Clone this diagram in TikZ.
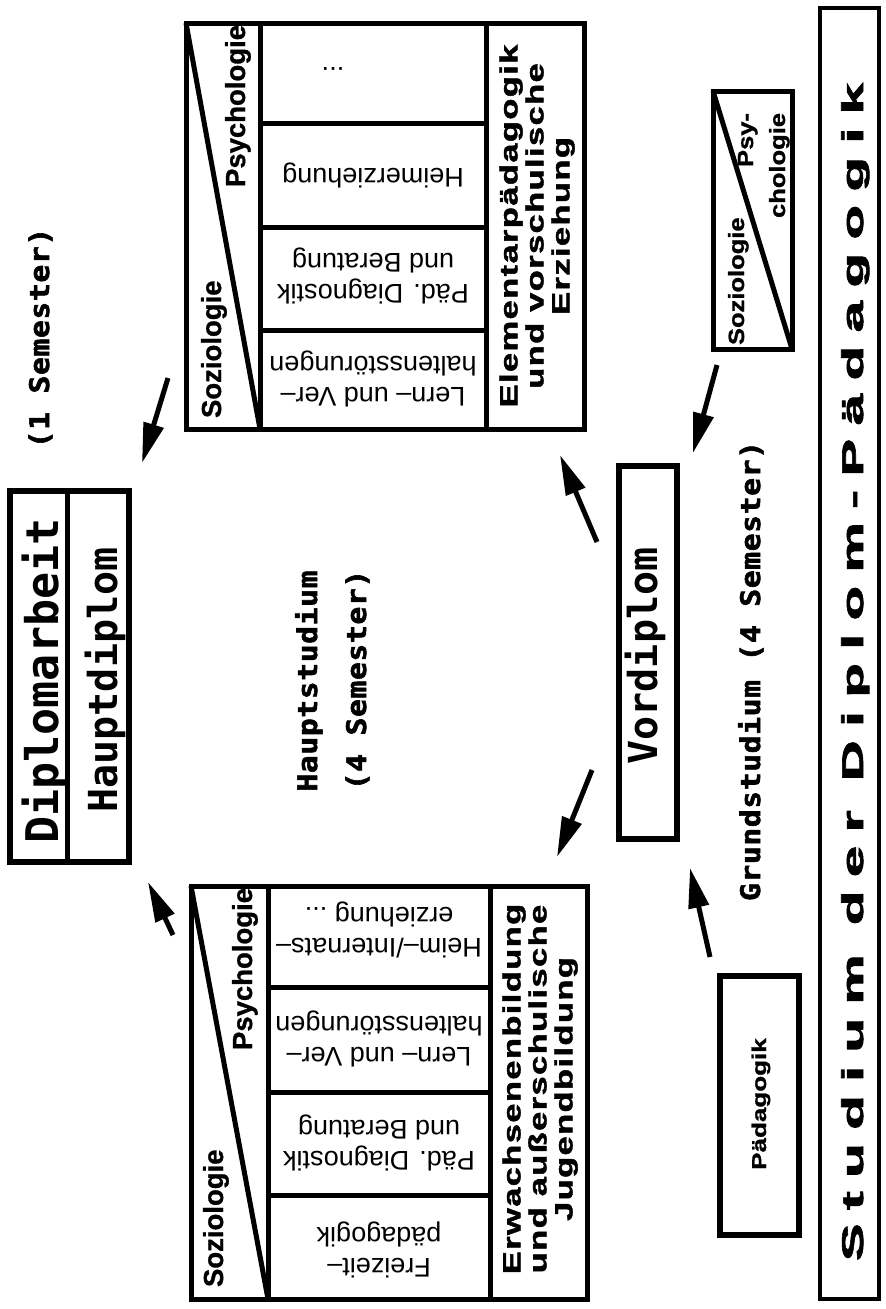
\documentclass[tikz,border=0pt]{standalone}
\usepackage{fontspec}
\usetikzlibrary{arrows.meta}
\setmainfont{Liberation Sans}
\newfontfamily\hv{Liberation Sans}
\newfontfamily\hvb[FakeBold=1]{Liberation Sans}
\newfontfamily\hvsp[LetterSpace=4,FakeBold=1.5]{Liberation Sans}
\newfontfamily\hvti[LetterSpace=24,FakeBold=2]{Liberation Sans}
\newfontfamily\mono{DejaVu Sans Mono}
\newfontfamily\monosp[LetterSpace=2,FakeBold=2]{DejaVu Sans Mono}
\newcommand\myfs[2]{\fontsize{#1}{#2}\selectfont}
\tikzset{
 box/.style={draw, line width=5pt, inner sep=0pt, outer sep=0pt},
 ln/.style={line width=5pt},
 arr/.style={line width=5pt, -{Triangle[length=40pt,width=20pt]}},
 vt/.style={rotate=90, inner sep=0pt, outer sep=0pt},
 cell/.style={rotate=180, inner sep=0pt, align=center, font=\hv\myfs{27}{31}},
 tri/.style={vt, font=\hvb\bfseries\myfs{27.5}{30}},
 lab/.style={vt, anchor=base, xscale=1.1, font=\monosp\bfseries\myfs{27}{30}},
 big/.style={vt, anchor=base, font=\mono\bfseries\myfs{40}{40}},
 sect/.style={vt, align=center, xscale=1.38, font=\hvsp\bfseries\myfs{25}{26}},
 small/.style={vt, xscale=1.16, font=\hvb\bfseries\myfs{22}{24}},
}
\begin{document}
\begin{tikzpicture}[x=1pt,y=-1pt]
\useasboundingbox (0,0) rectangle (886,1309);

% outer frame with title
\node[box, line width=4pt, minimum width=59pt, minimum height=1291pt] (frame) at (849.5,653.5) {};
\node[vt, anchor=base, xscale=1.88, font=\hvti\bfseries\myfs{30}{30}] (title) at (863,672) {Studium der Diplom-Pädagogik};

% Grundstudium
\node[box, line width=6pt, minimum width=79pt, minimum height=259pt] (pbox) at (759.5,1105.5) {};
\node[vt, anchor=base, xscale=1.3, font=\hvb\bfseries\myfs{20}{20}] (ptext) at (766,1104) {Pädagogik};

\node[box, minimum width=79pt, minimum height=258pt] (spbox) at (752.5,220) {};
\draw[ln] (spbox.north west) -- (spbox.south east);
\node[small, anchor=base west] (spsoz) at (744,345) {Soziologie};
\node[small, anchor=base east] (sppsy1) at (753,113) {Psy-};
\node[small, anchor=base east] (sppsy2) at (785,113) {chologie};

\node[lab] (grund) at (760,671) {Grundstudium (4 Semester)};

\node[box, line width=6pt, minimum width=58pt, minimum height=373pt] (vbox) at (647.5,652) {};
\node[big] (vtext) at (657,656) {Vordiplom};

% Hauptstudium upper box
\node[box, minimum width=398pt, minimum height=406pt] (ubox) at (385,226) {};
\draw[ln] (260,23) -- (260,432);
\draw[ln] (486,23) -- (486,429);
\draw[ln] (260,123) -- (486,123);
\draw[ln] (260,227) -- (486,227);
\draw[ln] (260,330) -- (486,330);
\draw[ln] (ubox.north west) -- (260,429);
\node[tri, anchor=base west] (usoz) at (221,418) {Soziologie};
\node[tri, anchor=base east] (upsy) at (245,25) {Psychologie};
\node[cell] (uc1) at (333,69) {...};
\node[cell] (uc2) at (373,175) {Heimerziehung};
\node[cell] (uc3) at (373,276) {Päd. Diagnostik\\und Beratung};
\node[cell] (uc4) at (373,379) {Lern– und Ver–\\haltensstörungen};
\node[sect] (utext) at (537,226) {Elementarpädagogik\\und vorschulische\\Erziehung};

% Hauptstudium lower box
\node[box, minimum width=396pt, minimum height=413pt] (lbox) at (389,1092.5) {};
\draw[ln] (268,886) -- (268,1302);
\draw[ln] (490,886) -- (490,1299);
\draw[ln] (268,987) -- (490,987);
\draw[ln] (268,1092) -- (490,1092);
\draw[ln] (268,1195) -- (490,1195);
\draw[ln] (lbox.north west) -- (268,1299);
\node[tri, anchor=base west] (lsoz) at (223,1287) {Soziologie};
\node[tri, anchor=base east] (lpsy) at (252,888) {Psychologie};
\node[cell] (lc1) at (379,930) {Heim–/Internats–\\erziehung ...};
\node[cell] (lc2) at (379,1039) {Lern– und Ver–\\haltensstörungen};
\node[cell] (lc3) at (379,1143) {Päd. Diagnostik\\und Beratung};
\node[cell] (lc4) at (379,1250) {Freizeit–\\pädagogik};
\node[sect] (ltext) at (540,1089) {Erwachsenenbildung\\und außerschulische\\Jugendbildung};

\node[lab] (haupt1) at (317,681) {Hauptstudium};
\node[lab] (haupt2) at (366,680) {(4 Semester)};
\node[lab] (eins) at (49,338) {(1 Semester)};

% Diplomarbeit / Hauptdiplom
\node[box, line width=6pt, minimum width=119pt, minimum height=371pt] (dbox) at (69.5,676.5) {};
\draw[ln] (67,491) -- (67,862);
\node[big, font=\mono\bfseries\myfs{45}{45}] (dtext) at (58,681) {Diplomarbeit};
\node[big] (htext) at (117,680) {Hauptdiplom};

% arrows
\coordinate (a1s) at (717,365); \coordinate (a1e) at (693,453);
\coordinate (a2s) at (710,957); \coordinate (a2e) at (690,868);
\coordinate (a3s) at (592,770); \coordinate (a3e) at (557,857);
\coordinate (a4s) at (597,542); \coordinate (a4e) at (560,455);
\coordinate (a5s) at (168,378); \coordinate (a5e) at (142,463);
\coordinate (a6s) at (173,935); \coordinate (a6e) at (148,882);
\draw[arr] (a1s) -- (a1e);
\draw[arr] (a2s) -- (a2e);
\draw[arr] (a3s) -- (a3e);
\draw[arr] (a4s) -- (a4e);
\draw[arr] (a5s) -- (a5e);
\draw[arr] (a6s) -- (a6e);
\end{tikzpicture}
\end{document}
